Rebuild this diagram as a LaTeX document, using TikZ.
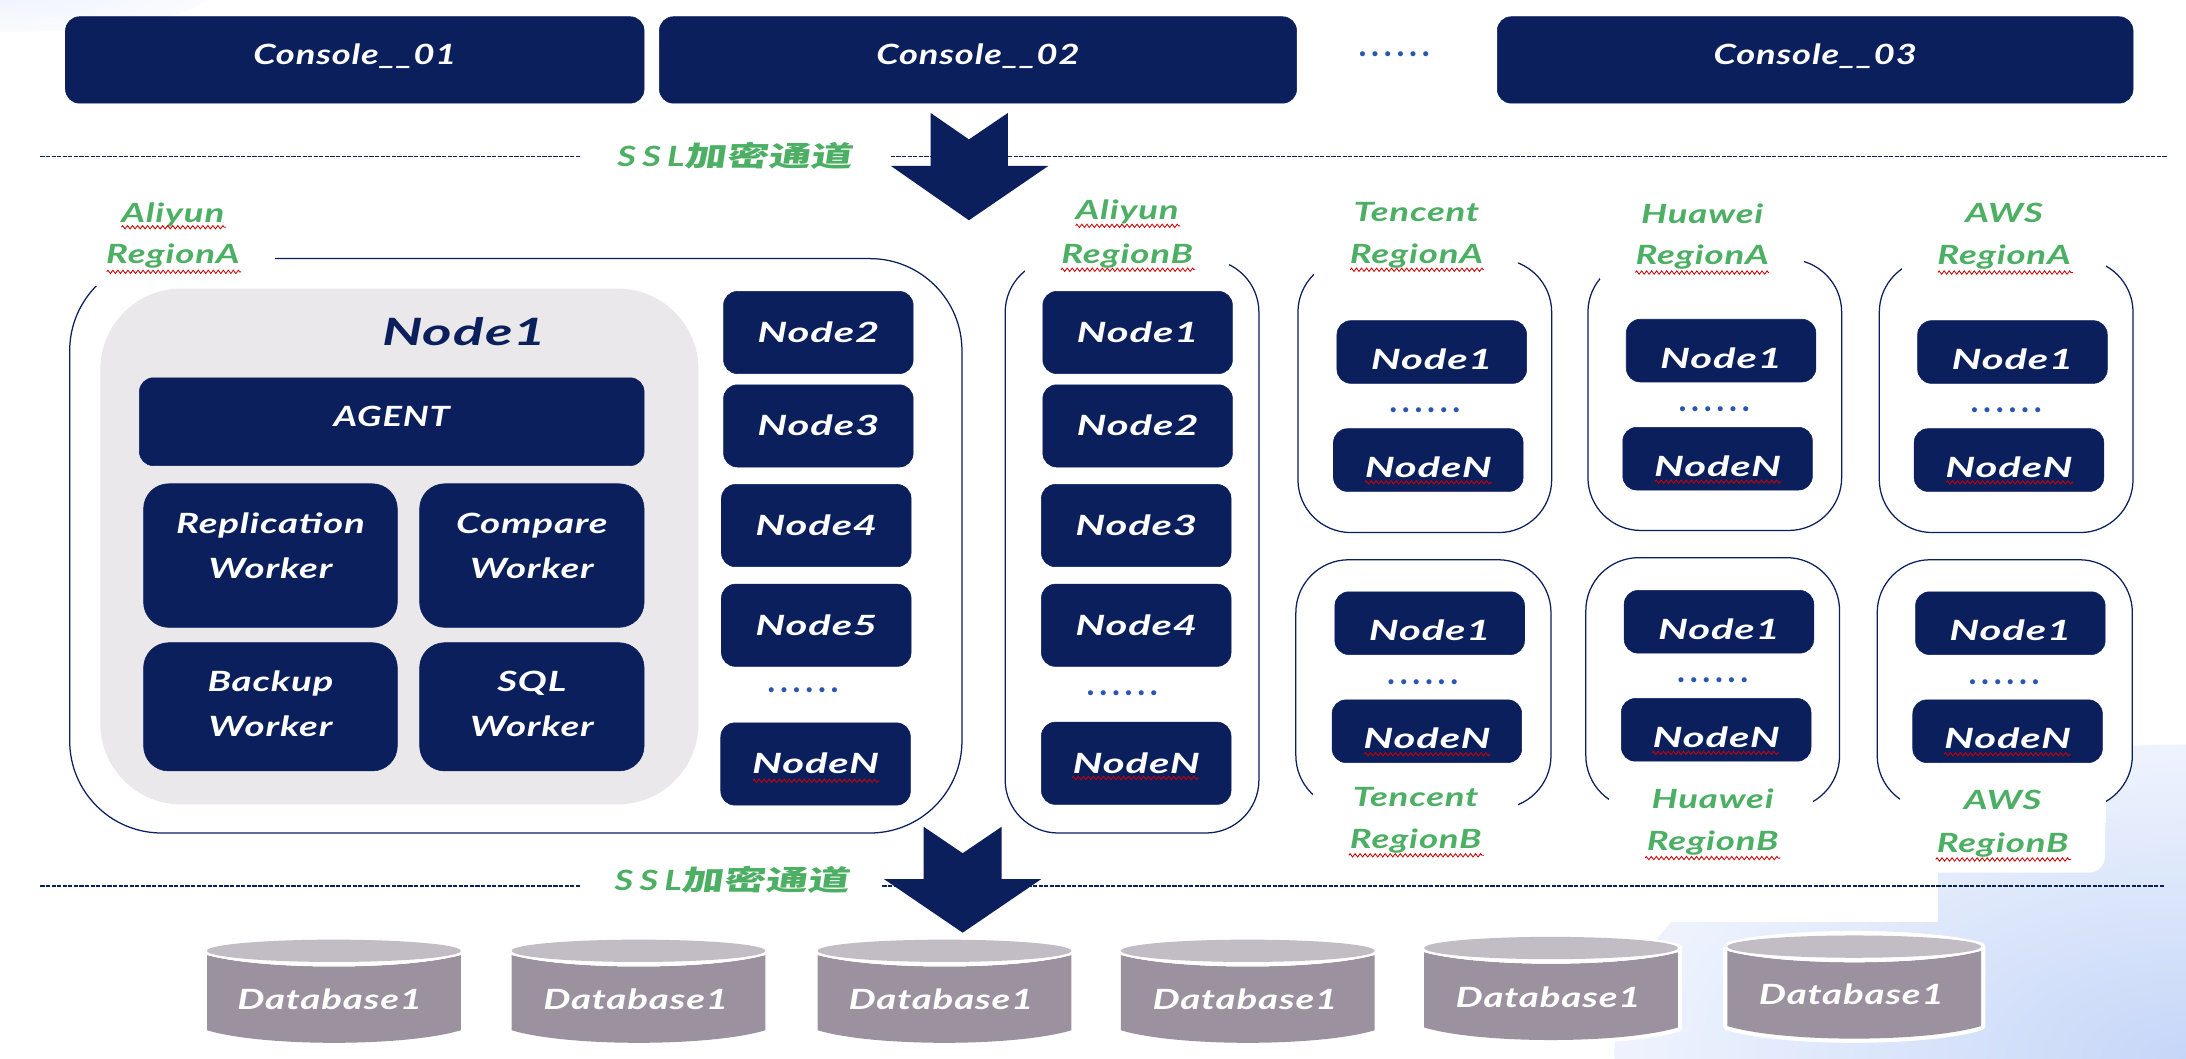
\documentclass[tikz,border=0pt]{standalone}
\usepackage{fontspec}
\usetikzlibrary{decorations.pathmorphing}
\setmainfont{Lato}
\newfontfamily\brushfont[FakeStretch=1.3,LetterSpace=3]{Lato}
\newfontfamily\wordfont[FakeStretch=1.38,LetterSpace=3]{Lato}
\newfontfamily\nodefont[FakeStretch=1.5,LetterSpace=3]{Lato}
\newfontfamily\sslfont[FakeStretch=1.3,LetterSpace=22]{Lato}
\newfontfamily\dotsfont[LetterSpace=14]{Lato}
\newfontfamily\cjkfont[FakeStretch=1.5,FakeSlant=0.15,BoldFont=*]{Noto Sans CJK SC}
\definecolor{navyfill}{HTML}{0A1F5C}
\definecolor{labelgreen}{HTML}{4CAF63}
\definecolor{dotblue}{HTML}{2A55B0}
\definecolor{panelgray}{HTML}{EAE8EB}
\definecolor{dbbody}{HTML}{9C919F}
\definecolor{dbtop}{HTML}{C2BCC5}
\definecolor{bgblue}{HTML}{C6D6F8}
\definecolor{bgbluea}{HTML}{D6E2FA}
\definecolor{bgblueb}{HTML}{EDF2FD}
\pgfdeclareradialshading{bgfade}{\pgfpointorigin}{color(0bp)=(bgblue); color(10bp)=(bgbluea); color(24bp)=(bgblueb); color(50bp)=(white)}
\tikzset{
  navybox/.style={text=white, draw=navyfill, fill=navyfill, rounded corners=10pt, align=center, inner sep=0pt, text height=14pt, text depth=0pt},
  bignode/.style={navybox, font=\nodefont\bfseries\itshape\fontsize{20}{31}\selectfont, minimum width=136pt, minimum height=59pt},
  smallnode/.style={bignode, minimum height=45pt, text height=25pt},
  widebox/.style={navybox, font=\brushfont\bfseries\itshape\fontsize{20}{31}\selectfont, minimum height=62pt, text height=10pt, text depth=3pt},
  workerbox/.style={navybox, font=\wordfont\bfseries\itshape\fontsize{20}{31}\selectfont, rounded corners=18pt, text height=0pt},
  greenlabel/.style={font=\wordfont\bfseries\itshape\fontsize{19}{24}\selectfont, text=labelgreen, inner sep=0pt},
  ssllabel/.style={font=\sslfont\bfseries\itshape\fontsize{20}{24}\selectfont, text=labelgreen, inner sep=0pt},
  dotsnode/.style={font=\dotsfont\bfseries\fontsize{24}{24}\selectfont, text=dotblue, inner sep=0pt},
  regionbox/.style={draw=navyfill, fill=white, line width=0.9pt, rounded corners=38pt},
  channel/.style={draw=navyfill, line width=0.9pt, dash pattern=on 3pt off 1pt},
  squiggle/.style={draw=red!80!black, line width=0.6pt, decorate, decoration={zigzag, segment length=3.6pt, amplitude=1.2pt}},
  dbtext/.style={font=\wordfont\bfseries\itshape\fontsize{20}{24}\selectfont, text=white, inner sep=0pt},
  dbcyl/.pic={
    \draw[white, line width=6pt, line join=round] (0,8) -- (0,65) .. controls (40,77) and (142,77) .. (182,65) -- (182,8) .. controls (142,-3) and (40,-3) .. (0,8);
    \fill[dbbody] (0,11) -- (0,65) .. controls (40,77) and (142,77) .. (182,65) -- (182,11) .. controls (142,22) and (40,22) .. (0,11);
    \fill[white] (0,8) -- (0,11) .. controls (40,22) and (142,22) .. (182,11) -- (182,8) -- cycle;
    \fill[dbtop] (91,8) ellipse [x radius=91pt, y radius=8pt];
  }
}
\begin{document}
\begin{tikzpicture}[x=1pt,y=-1pt]
\useasboundingbox (0,0) rectangle (1568,759);

%BACKGROUND
\begin{scope}
\clip (0,0) rectangle (1568,759);
\shade[shading=bgfade] (1568,759) ellipse [x radius=410pt, y radius=225pt];
\shade[shading=bgfade, opacity=0.3] (0,-5) ellipse [x radius=150pt, y radius=28pt];
\end{scope}
\fill[white] (0,30) rectangle (1390,661);
\fill[white, rounded corners=12pt] (1340,400) rectangle (1510,626);

%CONSOLES
\node[widebox, minimum width=415pt] (console1) at (254.5,43) {Console\_\_01};
\node[widebox, minimum width=457pt] (console2) at (701.5,43) {Console\_\_02};
\node[dotsnode] (consoledots) at (1000,39) {......};
\node[widebox, minimum width=456pt] (console3) at (1302,43) {Console\_\_03};

%CHANNELS
\draw[channel] (29,112) -- (416,112);
\draw[channel] (639,112) -- (1554,112);
\draw[channel] (29,635.5) -- (417,635.5);
\draw[channel] (633,635.5) -- (1553,635.5);
\node[ssllabel] (sslup) at (527,112) {SSL{\cjkfont\bfseries 加密通道}};
\node[ssllabel] (ssldown) at (525,631) {SSL{\cjkfont\bfseries 加密通道}};
\fill[navyfill] (667.5,81) -- (695,100) -- (723,81) -- (723,119) -- (752,119) -- (695,158) -- (639,119) -- (667.5,119) -- cycle;

%ALIYUN A
\draw[regionbox, rounded corners=66pt] (50,185.5) rectangle (690,597.5);
\fill[white] (30,140) rectangle (197,205);
\fill[panelgray, rounded corners=58pt] (72,207) rectangle (501,577);
\node[font=\nodefont\bfseries\itshape\fontsize{27}{30}\selectfont, text=navyfill, inner sep=0pt] (nodeone) at (333,238) {Node1};
\node[widebox, minimum width=362pt, minimum height=63pt] (agent) at (281,302.5) {AGENT};
\node[workerbox, minimum width=182pt, minimum height=103pt] (replication) at (194,398.5) {\raisebox{-16.5pt}{\shortstack{Replication\\[11pt]Worker}}};
\node[workerbox, minimum width=161pt, minimum height=103pt] (compare) at (381.5,398.5) {\raisebox{-16.5pt}{\shortstack{Compare\\[11pt]Worker}}};
\node[workerbox, minimum width=182pt, minimum height=92pt] (backup) at (194,507) {\raisebox{-21pt}{\shortstack{Backup\\[11pt]Worker}}};
\node[workerbox, minimum width=161pt, minimum height=92pt] (sqlworker) at (381.5,507) {\raisebox{-21pt}{\shortstack{SQL\\[11pt]Worker}}};
\node[bignode] (anode2) at (587,238.5) {Node2};
\node[bignode] (anode3) at (587,305.5) {Node3};
\node[bignode] (anode4) at (585.5,377) {Node4};
\node[bignode] (anode5) at (585.5,448.5) {Node5};
\node[dotsnode] (adots) at (576,495) {......};
\node[bignode] (anodeN) at (585,548) {NodeN};
\draw[squiggle] (540,560) -- (631,560);
\node[greenlabel] (aliyunA) at (124,154) {Aliyun};
\node[greenlabel] (regionAA) at (124,184) {RegionA};
\draw[squiggle] (87,163) -- (162,163);
\draw[squiggle] (76.5,195) -- (173,195);

%ALIYUN B
\draw[regionbox] (721,186) rectangle (903,597.5);
\fill[white] (735,140) rectangle (881.5,205);
\node[bignode] (bnode1) at (816,238.5) {Node1};
\node[bignode] (bnode2) at (816,305.5) {Node2};
\node[bignode] (bnode3) at (815,377) {Node3};
\node[bignode] (bnode4) at (815,448.5) {Node4};
\node[dotsnode] (bdots) at (805,497) {......};
\node[bignode] (bnodeN) at (815,547.5) {NodeN};
\draw[squiggle] (769,558) -- (860,558);
\node[greenlabel] (aliyunB) at (808.5,152) {Aliyun};
\node[greenlabel] (regionAB) at (808.5,183.5) {RegionB};
\draw[squiggle] (771.5,162) -- (846.5,162);
\draw[squiggle] (761,193.5) -- (857.5,193.5);

%TENCENT A
\draw[regionbox] (931,186) rectangle (1113,382);
\fill[white] (942.5,140) rectangle (1089,200);
\node[smallnode] (tanode1) at (1027,252.5) {Node1};
\node[dotsnode] (tadots) at (1022,294) {......};
\node[smallnode] (tanodeN) at (1024.5,330) {NodeN};
\draw[squiggle] (979,346) -- (1070,346);
\node[greenlabel] (tencentA) at (1016,152) {Tencent};
\node[greenlabel] (regionTA) at (1016,183.5) {RegionA};
\draw[squiggle] (968.5,193.5) -- (1064.5,193.5);

%HUAWEI A
\draw[regionbox] (1139,186) rectangle (1321,380.5);
\fill[white] (1148,140) rectangle (1294,200);
\node[smallnode] (hanode1) at (1234.5,251.5) {Node1};
\node[dotsnode] (hadots) at (1229.5,293.5) {......};
\node[smallnode] (hanodeN) at (1232,329) {NodeN};
\draw[squiggle] (1187,345.5) -- (1278,345.5);
\node[greenlabel] (huaweiA) at (1221,153) {Huawei};
\node[greenlabel] (regionHA) at (1221,184.5) {RegionA};
\draw[squiggle] (1173,195.5) -- (1269,195.5);

%AWS A
\draw[regionbox] (1348,186) rectangle (1530,382);
\fill[white] (1364,140) rectangle (1510.5,200);
\node[smallnode] (wanode1) at (1443.5,252.5) {Node1};
\node[dotsnode] (wadots) at (1439,294) {......};
\node[smallnode] (wanodeN) at (1441,330) {NodeN};
\draw[squiggle] (1396,346) -- (1487,346);
\node[greenlabel] (awsA) at (1437.5,153) {AWS};
\node[greenlabel] (regionWA) at (1437.5,184.5) {RegionA};
\draw[squiggle] (1390,195.5) -- (1487,195.5);

%TENCENT B
\draw[regionbox] (929.5,401.5) rectangle (1112.5,580);
\fill[white] (942,560) rectangle (1089,590);
\node[smallnode] (tbnode1) at (1025.5,447) {Node1};
\node[dotsnode] (tbdots) at (1020.5,489) {......};
\node[smallnode] (tbnodeN) at (1023.5,524.5) {NodeN};
\draw[squiggle] (978.5,541) -- (1069,541);
\node[greenlabel] (tencentB) at (1015.5,571.5) {Tencent};
\node[greenlabel] (regionTB) at (1015.5,603) {RegionB};
\draw[squiggle] (967.5,613.5) -- (1064.5,613.5);

%HUAWEI B
\draw[regionbox] (1137.5,400) rectangle (1319.5,580);
\fill[white] (1154,560) rectangle (1300.5,590);
\node[smallnode] (hbnode1) at (1233,446) {Node1};
\node[dotsnode] (hbdots) at (1228.5,488) {......};
\node[smallnode] (hbnodeN) at (1231,523.5) {NodeN};
\draw[squiggle] (1185,540) -- (1276,540);
\node[greenlabel] (huaweiB) at (1228.5,573) {Huawei};
\node[greenlabel] (regionHB) at (1228.5,604.5) {RegionB};
\draw[squiggle] (1180,615.5) -- (1277,615.5);

%AWS B
\draw[regionbox] (1346.5,401.5) rectangle (1529.5,580);
\fill[white] (1363,560) rectangle (1510.5,590);
\node[smallnode] (wbnode1) at (1442,447) {Node1};
\node[dotsnode] (wbdots) at (1437.5,489) {......};
\node[smallnode] (wbnodeN) at (1440,524.5) {NodeN};
\draw[squiggle] (1394.5,541) -- (1485.5,541);
\node[greenlabel] (awsB) at (1436.5,574) {AWS};
\node[greenlabel] (regionWB) at (1436.5,606) {RegionB};
\draw[squiggle] (1388.5,616.5) -- (1485.5,616.5);

%SECOND ARROW
\fill[navyfill] (662.5,593) -- (690.5,612) -- (718.5,593) -- (718.5,630.5) -- (747,630.5) -- (690.5,669) -- (634,630.5) -- (662.5,630.5) -- cycle;

%DATABASES
\pic at (148.5,674) {dbcyl};
\pic at (367,674) {dbcyl};
\pic at (586.5,674) {dbcyl};
\pic at (804,674) {dbcyl};
\pic at (1021.5,672) {dbcyl};
\pic at (1239,671) {dbcyl};
\node[dbtext] (db1) at (236.5,716.5) {Database1};
\node[dbtext] (db2) at (456,716.5) {Database1};
\node[dbtext] (db3) at (675,716.5) {Database1};
\node[dbtext] (db4) at (893,716.5) {Database1};
\node[dbtext] (db5) at (1110.5,715) {Database1};
\node[dbtext] (db6) at (1328,713.5) {Database1};

\end{tikzpicture}
\end{document}
